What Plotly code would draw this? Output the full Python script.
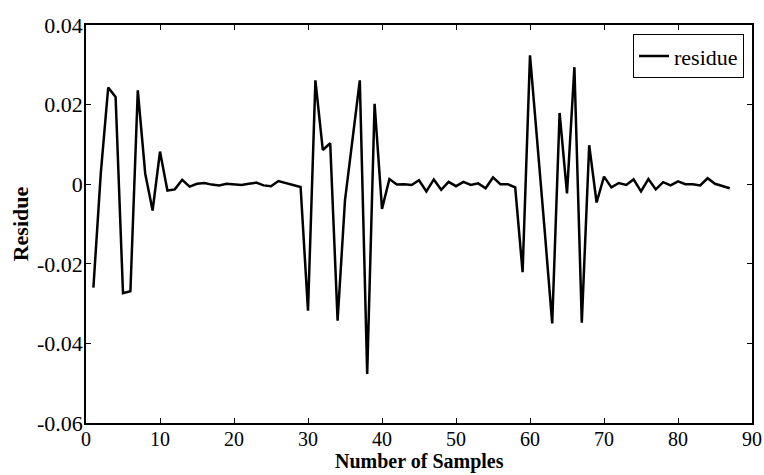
import plotly.graph_objects as go

samples = list(range(1, 88))
residue = [
    -0.0260, 0.0028, 0.0243, 0.0219, -0.0274, -0.0269, 0.0236, 0.0027, -0.0066, 0.0082,
    -0.0016, -0.0013, 0.0011, -0.0006, 0.0001, 0.0003, -0.0001, -0.0003, 0.0001, 0.0000,
    -0.0002, 0.0001, 0.0004, -0.0003, -0.0005, 0.0008, 0.0003, -0.0001, -0.0007, -0.0318,
    0.0261, 0.0086, 0.0103, -0.0343, -0.0040, 0.0110, 0.0261, -0.0477, 0.0202, -0.0062,
    0.0013, -0.0001, 0.0000, -0.0002, 0.0010, -0.0018, 0.0012, -0.0014, 0.0006, -0.0005,
    0.0006, -0.0002, 0.0002, -0.0010, 0.0017, 0.0000, 0.0000, -0.0008, -0.0221, 0.0324,
    0.0110, -0.0120, -0.0350, 0.0179, -0.0023, 0.0294, -0.0348, 0.0098, -0.0046, 0.0019,
    -0.0008, 0.0003, -0.0002, 0.0012, -0.0018, 0.0013, -0.0013, 0.0005, -0.0003, 0.0007,
    0.0000, 0.0000, -0.0003, 0.0015, 0.0001, -0.0004, -0.0010,
]

x_ticks = [0, 10, 20, 30, 40, 50, 60, 70, 80, 90]
y_ticks = [0.04, 0.02, 0.0, -0.02, -0.04, -0.06]
y_tick_labels = ["0.04", "0.02", "0", "-0.02", "-0.04", "-0.06"]

FONT = "Liberation Serif, Times New Roman, serif"

fig = go.Figure()
fig.add_trace(go.Scatter(
    x=samples, y=residue, mode="lines", name="residue",
    line=dict(color="black", width=2.5),
))

fig.update_layout(
    width=764, height=475,
    margin=dict(l=86, r=12, t=25, b=52, autoexpand=False),
    paper_bgcolor="white", plot_bgcolor="white",
    font=dict(family=FONT, size=22, color="black"),
    showlegend=True,
    legend=dict(
        x=0.988, y=0.977, xanchor="right", yanchor="top",
        bordercolor="black", borderwidth=1, bgcolor="white",
        font=dict(family=FONT, size=22, color="black"),
        tracegroupgap=0, itemwidth=30,
    ),
    annotations=[
        dict(text="<b>Number of Samples</b>", xref="paper", yref="paper",
             x=0.5, y=-0.1298, xanchor="center", yanchor="bottom", showarrow=False,
             font=dict(family=FONT, size=20, color="black")),
        dict(text="<b>Residue</b>", xref="paper", yref="paper",
             x=-0.0986, y=0.5, xanchor="center", yanchor="middle", showarrow=False,
             textangle=-90, font=dict(family=FONT, size=22, color="black")),
    ],
)

fig.update_xaxes(
    range=[0, 90], tickvals=x_ticks, ticktext=[str(v) for v in x_ticks],
    showgrid=False, zeroline=False, automargin=False,
    showline=True, linecolor="black", linewidth=1.5, mirror="allticks",
    ticks="inside", ticklen=5, tickcolor="black", tickwidth=1,
    tickfont=dict(family=FONT, size=20), ticklabelstandoff=-3,
)
fig.update_yaxes(
    range=[-0.06, 0.04], tickvals=y_ticks, ticktext=y_tick_labels,
    showgrid=False, zeroline=False, automargin=False,
    showline=True, linecolor="black", linewidth=1.5, mirror="allticks",
    ticks="inside", ticklen=5, tickcolor="black", tickwidth=1,
    tickfont=dict(family=FONT, size=22), ticklabelstandoff=-3,
)

fig.write_html("out.html", config={"displayModeBar": False},
               post_script="document.body.style.margin='0';")
